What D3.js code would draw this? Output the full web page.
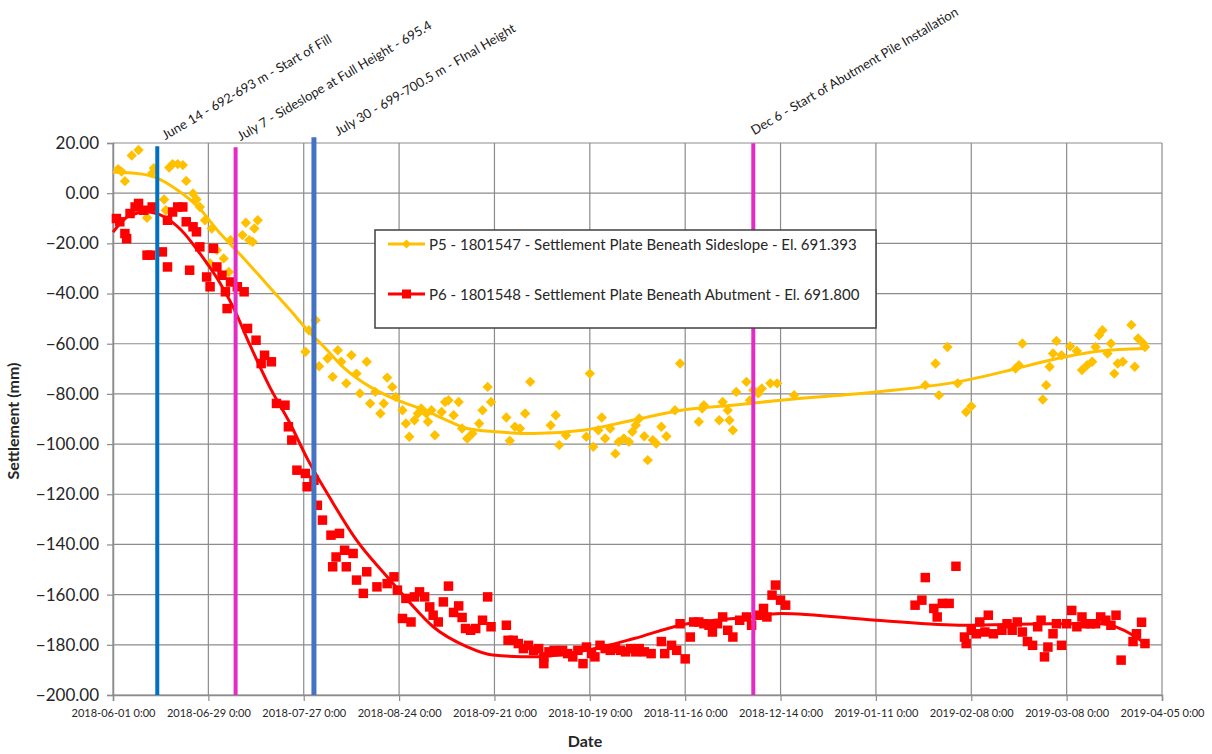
<!DOCTYPE html>
<html>
<head>
<meta charset="utf-8">
<script src="https://cdn.jsdelivr.net/npm/d3@7"></script>
<style>
  html, body { margin: 0; padding: 0; background: #fff; }
  svg { display: block; font-family: Lato, "Open Sans", sans-serif; }
</style>
</head>
<body>
<svg id="chart" width="1212" height="754"></svg>
<script>
// ---- Data ----------------------------------------------------------------
// Axis ticks
const xTickLabels = ["2018-06-01 0:00","2018-06-29 0:00","2018-07-27 0:00","2018-08-24 0:00",
  "2018-09-21 0:00","2018-10-19 0:00","2018-11-16 0:00","2018-12-14 0:00",
  "2019-01-11 0:00","2019-02-08 0:00","2019-03-08 0:00","2019-04-05 0:00"];
const yTicks = [20, 0, -20, -40, -60, -80, -100, -120, -140, -160, -180, -200];

// Series names
const seriesNames = [
  "P5 - 1801547 - Settlement Plate Beneath Sideslope - El. 691.393",
  "P6 - 1801548 - Settlement Plate Beneath Abutment - El. 691.800"
];

// P5 readings: [date, settlement mm]
const p5Readings = [
  ["2018-06-02 12", 9.6],["2018-06-03 12", 8.6],["2018-06-04 12", 4.8],["2018-06-06 12", 15.0],
  ["2018-06-08 12", 17.2],["2018-06-11", -9.8],["2018-06-12 12", 8.0],["2018-06-13", 10.0],
  ["2018-06-16", -2.5],["2018-06-16 12", -6.8],["2018-06-17 12", 10.2],["2018-06-18 12", 11.6],
  ["2018-06-20", 11.6],["2018-06-21 12", 11.2],["2018-06-22 12", 4.9],["2018-06-24 12", -0.1],
  ["2018-06-25 12", -2.5],["2018-06-26 12", -5.5],["2018-06-28", -10.8],["2018-06-29 12", -28.0],
  ["2018-06-30", -14.1],["2018-07-01 12", -22.7],["2018-07-03 12", -26.0],["2018-07-05", -31.4],
  ["2018-07-05 12", -18.7],["2018-07-09", -16.7],["2018-07-10", -11.8],["2018-07-11", -18.7],
  ["2018-07-12", -19.4],["2018-07-12 12", -14.1],["2018-07-13 12", -10.8],
  ["2018-07-27 12", -63.2],["2018-07-28 12", -54.6],["2018-07-30 12", -50.6],["2018-07-31 12", -69.0],
  ["2018-08-03", -65.9],["2018-08-04 12", -73.2],["2018-08-06", -62.6],["2018-08-07", -67.2],
  ["2018-08-08 12", -75.8],["2018-08-10", -64.6],["2018-08-11 12", -71.9],["2018-08-12 12", -79.8],
  ["2018-08-14 12", -67.2],["2018-08-15 12", -83.8],["2018-08-17", -79.2],["2018-08-18 12", -87.8],
  ["2018-08-19 12", -83.8],["2018-08-20 12", -73.5],["2018-08-22", -77.2],["2018-08-23", -81.2],
  ["2018-08-25", -86.5],["2018-08-26", -91.8],["2018-08-27", -97.1],["2018-08-28 12", -90.5],
  ["2018-08-29 12", -87.8],["2018-08-30 12", -85.8],["2018-09-01", -87.8],["2018-09-01 12", -91.1],
  ["2018-09-02 12", -86.5],["2018-09-03 12", -96.5],["2018-09-05 12", -87.2],["2018-09-06 12", -83.2],
  ["2018-09-07 12", -82.5],["2018-09-09", -88.5],["2018-09-10 12", -83.2],["2018-09-11 12", -93.8],
  ["2018-09-13", -97.8],["2018-09-14 12", -95.8],["2018-09-16 12", -91.8],["2018-09-17 12", -86.5],
  ["2018-09-19", -77.2],["2018-09-20", -83.2],["2018-09-24 12", -89.4],["2018-09-25 12", -98.7],
  ["2018-09-27", -93.1],["2018-09-28 12", -93.8],["2018-09-30", -87.8],["2018-10-01 12", -75.2],
  ["2018-10-07 12", -92.5],["2018-10-09", -88.5],["2018-10-10", -100.4],["2018-10-12", -96.5],
  ["2018-10-18", -97.1],["2018-10-19", -71.9],["2018-10-20", -101.1],["2018-10-21 12", -94.5],
  ["2018-10-22 12", -89.4],["2018-10-23 12", -97.8],["2018-10-25", -93.8],["2018-10-26 12", -103.8],
  ["2018-10-27 12", -99.1],["2018-10-29", -97.8],["2018-10-30 12", -99.1],["2018-10-31 12", -95.1],
  ["2018-11-01 12", -92.5],["2018-11-02 12", -89.8],["2018-11-04", -96.9],["2018-11-05", -106.4],
  ["2018-11-06 12", -98.4],["2018-11-07 12", -99.8],["2018-11-09", -93.1],["2018-11-10 12", -96.9],
  ["2018-11-13", -86.5],["2018-11-14 12", -67.9],["2018-11-20", -91.1],["2018-11-21", -85.8],
  ["2018-11-21 12", -84.5],["2018-11-26", -90.5],["2018-11-27", -83.2],["2018-11-28 12", -86.5],
  ["2018-11-29", -90.5],["2018-11-30", -94.5],["2018-12-01", -79.2],["2018-12-04", -75.2],
  ["2018-12-05", -82.5],["2018-12-06", -78.5],["2018-12-07 12", -79.8],["2018-12-08 12", -77.8],
  ["2018-12-11", -75.8],["2018-12-13", -75.8],["2018-12-18", -80.5],
  ["2019-01-25 12", -76.5],["2019-01-28 12", -67.9],["2019-01-29 12", -80.5],["2019-02-01", -61.3],
  ["2019-02-04", -75.8],["2019-02-06 12", -87.2],["2019-02-08", -84.9],["2019-02-21", -69.9],
  ["2019-02-22", -68.6],["2019-02-23", -59.9],["2019-03-01", -82.2],["2019-03-02", -76.5],
  ["2019-03-03", -69.2],["2019-03-04", -63.9],["2019-03-05", -58.9],["2019-03-06 12", -64.6],
  ["2019-03-09", -61.0],["2019-03-11", -62.9],["2019-03-12 12", -70.5],["2019-03-14", -68.6],
  ["2019-03-15 12", -67.2],["2019-03-16 12", -61.3],["2019-03-17 12", -56.6],["2019-03-18 12", -54.6],
  ["2019-03-20", -63.9],["2019-03-21", -59.9],["2019-03-22", -71.9],["2019-03-23", -67.9],
  ["2019-03-24 12", -67.2],["2019-03-27", -52.5],["2019-03-28", -69.2],["2019-03-29", -57.9],
  ["2019-03-30 12", -59.9],["2019-03-31", -61.3]
];

// P6 readings: [date, settlement mm]
const p6Readings = [
  ["2018-06-02", -10.1],["2018-06-03", -11.4],["2018-06-04 12", -16.1],["2018-06-05", -18.1],
  ["2018-06-06", -8.1],["2018-06-07 12", -5.5],["2018-06-08 12", -4.1],["2018-06-10", -6.8],
  ["2018-06-11", -24.7],["2018-06-12", -24.7],["2018-06-12 12", -5.5],["2018-06-15 12", -23.4],
  ["2018-06-17", -29.4],["2018-06-17", -10.8],["2018-06-18 12", -7.5],["2018-06-20", -5.5],
  ["2018-06-21 12", -5.5],["2018-06-22 12", -11.4],["2018-06-23 12", -30.7],["2018-06-24 12", -13.4],
  ["2018-06-25 12", -15.4],["2018-06-26 12", -21.4],["2018-06-28 12", -33.4],["2018-06-29 12", -37.3],
  ["2018-06-30 12", -22.0],["2018-07-01 12", -29.4],["2018-07-03", -32.7],["2018-07-04", -39.3],
  ["2018-07-04 12", -46.0],["2018-07-05 12", -35.4],["2018-07-07 12", -37.3],["2018-07-09 12", -39.3],
  ["2018-07-10 12", -53.9],["2018-07-13", -58.6],["2018-07-14 12", -67.9],["2018-07-15 12", -64.6],
  ["2018-07-17 12", -67.2],["2018-07-19", -83.8],["2018-07-21 12", -84.5],["2018-07-22 12", -93.1],
  ["2018-07-23 12", -98.4],["2018-07-25", -110.4],["2018-07-27 12", -111.7],["2018-07-28", -117.0],
  ["2018-07-30", -114.4],["2018-07-31", -124.4],["2018-08-01 12", -130.3],["2018-08-04", -136.3],
  ["2018-08-04 12", -148.9],["2018-08-05 12", -145.0],["2018-08-06 12", -135.6],["2018-08-08", -142.3],
  ["2018-08-08 12", -148.9],["2018-08-10 12", -143.6],["2018-08-11 12", -154.2],["2018-08-13 12", -159.5],
  ["2018-08-14 12", -150.9],["2018-08-17 12", -156.9],["2018-08-20 12", -155.6],["2018-08-22 12", -152.9],
  ["2018-08-23 12", -158.2],["2018-08-25", -169.5],["2018-08-26", -161.5],["2018-08-27 12", -170.9],
  ["2018-08-28 12", -160.9],["2018-08-30", -158.9],["2018-08-31 12", -160.9],["2018-09-02", -164.9],
  ["2018-09-03", -168.2],["2018-09-04 12", -170.9],["2018-09-06", -162.9],["2018-09-07 12", -156.6],
  ["2018-09-09", -167.1],["2018-09-10 12", -164.5],["2018-09-11 12", -169.1],["2018-09-12 12", -173.5],
  ["2018-09-14", -174.2],["2018-09-15 12", -173.5],["2018-09-17 12", -170.2],["2018-09-19", -160.9],
  ["2018-09-20", -172.8],["2018-09-24 12", -172.2],["2018-09-25", -178.2],["2018-09-26 12", -178.2],
  ["2018-09-28", -179.5],["2018-09-29 12", -181.5],["2018-10-01", -180.2],["2018-10-02 12", -182.2],
  ["2018-10-04", -181.5],["2018-10-05 12", -187.5],["2018-10-05 12", -184.8],["2018-10-07", -182.8],
  ["2018-10-08 12", -182.2],["2018-10-10", -182.8],["2018-10-11", -182.2],["2018-10-12 12", -183.5],
  ["2018-10-14", -184.8],["2018-10-15 12", -182.2],["2018-10-17", -187.5],["2018-10-18", -180.9],
  ["2018-10-19 12", -183.5],["2018-10-20 12", -184.8],["2018-10-22", -180.2],["2018-10-23 12", -181.5],
  ["2018-10-25", -182.2],["2018-10-26 12", -181.5],["2018-10-28", -182.2],["2018-10-29 12", -182.8],
  ["2018-10-31", -181.5],["2018-11-01 12", -182.8],["2018-11-02 12", -181.5],["2018-11-04", -182.8],
  ["2018-11-06", -183.5],["2018-11-09", -178.7],["2018-11-10", -183.5],["2018-11-12", -180.2],
  ["2018-11-13 12", -182.2],["2018-11-14 12", -171.6],["2018-11-16", -185.6],["2018-11-17 12", -176.9],
  ["2018-11-18 12", -170.9],["2018-11-20", -170.9],["2018-11-21 12", -171.6],["2018-11-23", -172.2],
  ["2018-11-24", -174.9],["2018-11-25 12", -171.6],["2018-11-27", -168.9],["2018-11-28 12", -174.2],
  ["2018-11-30", -176.9],["2018-12-02", -170.2],["2018-12-04", -168.9],["2018-12-05 12", -172.2],
  ["2018-12-07 12", -168.2],["2018-12-09", -165.5],["2018-12-10", -168.9],["2018-12-11 12", -160.2],
  ["2018-12-12 12", -156.2],["2018-12-14", -162.2],["2018-12-15 12", -164.2],
  ["2019-01-22 12", -164.2],["2019-01-24 12", -162.2],["2019-01-25 12", -153.2],["2019-01-28", -165.5],
  ["2019-01-29", -168.9],["2019-01-30 12", -163.5],["2019-02-01 12", -163.5],["2019-02-03 12", -148.7],
  ["2019-02-06", -176.9],["2019-02-06 12", -179.5],["2019-02-08", -174.2],["2019-02-09 12", -175.6],
  ["2019-02-10 12", -170.9],["2019-02-12", -174.9],["2019-02-13", -168.2],["2019-02-14 12", -175.6],
  ["2019-02-17", -174.2],["2019-02-18 12", -171.6],["2019-02-20", -174.2],["2019-02-21 12", -170.9],
  ["2019-02-23", -174.9],["2019-02-24 12", -178.7],["2019-02-26", -180.2],["2019-02-27 12", -172.8],
  ["2019-02-28 12", -170.2],["2019-03-01 12", -184.8],["2019-03-02 12", -180.9],["2019-03-04", -175.6],
  ["2019-03-05", -171.6],["2019-03-06 12", -180.2],["2019-03-08", -171.6],["2019-03-09 12", -166.3],
  ["2019-03-11", -172.8],["2019-03-12 12", -168.9],["2019-03-13 12", -171.6],["2019-03-15", -171.6],
  ["2019-03-16 12", -171.6],["2019-03-18", -168.9],["2019-03-19 12", -170.2],["2019-03-21", -172.2],
  ["2019-03-22 12", -168.2],["2019-03-24", -186.1],["2019-03-27 12", -178.7],["2019-03-28 12", -175.6],
  ["2019-03-30", -171.0],["2019-03-31", -179.5]
];

// Fitted trend curves, sampled along the date range
const p5Trend = [
  ["2018-06-01", 8.3],["2018-06-08", 7.8],["2018-06-13", 6.5],["2018-06-20", 1.2],["2018-06-26", -5.5],
  ["2018-07-02 12", -16.1],["2018-07-09", -25.4],["2018-07-16", -36.0],["2018-07-23", -46.6],
  ["2018-07-29", -55.9],["2018-08-02", -61.3],["2018-08-07 12", -69.2],["2018-08-15 12", -77.2],
  ["2018-08-23 12", -82.5],["2018-08-31 12", -86.5],["2018-09-07", -90.5],["2018-09-13", -93.8],
  ["2018-09-21 12", -95.1],["2018-10-02 12", -95.8],["2018-10-17", -94.5],["2018-10-31 12", -90.5],
  ["2018-11-15", -86.5],["2018-11-30", -84.5],["2018-12-14", -82.5],["2019-01-11", -79.2],
  ["2019-02-04", -75.2],["2019-02-19 12", -70.5],["2019-03-03", -66.6],["2019-03-18", -62.9],
  ["2019-03-31", -61.9]
];
const p6Trend = [
  ["2018-06-01", -15.5],["2018-06-06", -8.8],["2018-06-11", -7.5],["2018-06-16", -9.4],
  ["2018-06-21", -14.7],["2018-06-26 12", -24.0],["2018-07-02 12", -36.0],["2018-07-06 12", -46.0],
  ["2018-07-11", -59.9],["2018-07-17", -77.2],["2018-07-23", -91.8],["2018-07-28", -105.7],
  ["2018-08-03 12", -121.0],["2018-08-11 12", -138.3],["2018-08-20 12", -152.9],["2018-08-26 12", -162.2],
  ["2018-09-03", -172.8],["2018-09-13", -180.8],["2018-09-20 12", -184.1],["2018-10-02 12", -184.8],
  ["2018-10-18", -182.2],["2018-11-01", -177.5],["2018-11-14 12", -172.2],["2018-12-05", -168.9],
  ["2018-12-14", -167.5],["2019-01-11", -170.2],["2019-02-06", -172.2],["2019-03-03", -171.6],
  ["2019-03-18", -171.6],["2019-03-27 12", -176.2],["2019-03-31", -179.5]
];

// Construction events (vertical markers)
const eventDates = ["2018-06-14", "2018-07-07", "2018-07-30", "2018-12-06"];
const eventLabels = [
  "June 14 - 692-693 m - Start of Fill",
  "July 7 - Sideslope at Full Height - 695.4",
  "July 30 - 699-700.5 m - FInal Height",
  "Dec 6 - Start of Abutment Pile Installation"
];
const eventTops = [18.7, 18.3, 22.3, 19.9];

// ---- Styles ---------------------------------------------------------------
const P5_COLOR = "#FFC000";
const P6_COLOR = "#FF0000";
const GRID = "#8c8c8c";
const eventStyle = [
  { color: "#0070C0", width: 4, dx: 8, dy: -6 },
  { color: "#E32BC6", width: 4, dx: 5, dy: -6 },
  { color: "#4472C4", width: 5, dx: 24, dy: -1 },
  { color: "#E32BC6", width: 4, dx: 1, dy: -8 }
];

// ---- Chart ---------------------------------------------------------------
const W = 1212, H = 754;
const m = { top: 143, right: 50, bottom: 59, left: 113 };
const parseHour = d3.timeParse("%Y-%m-%d %H");
const parseDay = d3.timeParse("%Y-%m-%d");
const toDate = s => parseHour(s) || parseDay(s);

const svg = d3.select("#chart");
svg.append("rect").attr("width", W).attr("height", H).attr("fill", "#fff");

const x = d3.scaleTime()
  .domain([toDate("2018-06-01"), toDate("2019-04-05")])
  .range([m.left, W - m.right]);
const y = d3.scaleLinear().domain([-200, 20]).range([H - m.bottom, m.top]);

const xTicks = xTickLabels.map(s => toDate(s.slice(0, 10)));

// Gridlines
const grid = svg.append("g").attr("stroke", GRID).attr("stroke-width", 1.2);
grid.selectAll("line.h").data(yTicks).join("line")
  .attr("x1", m.left).attr("x2", W - m.right)
  .attr("y1", d => y(d)).attr("y2", d => y(d));
grid.selectAll("line.v").data(xTicks).join("line")
  .attr("x1", d => x(d)).attr("x2", d => x(d))
  .attr("y1", m.top).attr("y2", H - m.bottom);

// Axes
const yAxis = svg.append("g").attr("transform", `translate(${m.left},0)`)
  .call(d3.axisLeft(y).tickValues(yTicks).tickFormat(d3.format(".2f")).tickSize(6).tickPadding(8));
const xAxis = svg.append("g").attr("transform", `translate(0,${H - m.bottom})`)
  .call(d3.axisBottom(x).tickValues(xTicks).tickFormat((d, i) => xTickLabels[i]).tickSize(6).tickPadding(8));
[yAxis, xAxis].forEach(g => {
  g.selectAll("path, line").attr("stroke", GRID).attr("stroke-width", 1.2);
  g.select(".domain").attr("stroke-width", 1.5);
  g.selectAll("text").attr("fill", "#262626").attr("font-family", "Lato, sans-serif");
});
yAxis.selectAll("text").attr("font-size", 17);
xAxis.selectAll("text").attr("font-size", 11);

// Axis titles
svg.append("text").attr("transform", "translate(19,421) rotate(-90)")
  .attr("text-anchor", "middle").attr("font-weight", "bold").attr("font-size", 16)
  .attr("fill", "#262626").text("Settlement (mm)");
svg.append("text").attr("x", 585).attr("y", 747)
  .attr("text-anchor", "middle").attr("font-weight", "bold").attr("font-size", 16)
  .attr("fill", "#262626").text("Date");

// Markers
const diamond = r => `M0,${-r}L${r},0L0,${r}L${-r},0Z`;
const square = s => `M${-s / 2},${-s / 2}h${s}v${s}h${-s}Z`;

const plot = svg.append("g");
plot.append("g").selectAll("path").data(p5Readings).join("path")
  .attr("d", diamond(5.2))
  .attr("transform", d => `translate(${x(toDate(d[0]))},${y(d[1])})`)
  .attr("fill", P5_COLOR);
plot.append("g").selectAll("path").data(p6Readings).join("path")
  .attr("d", square(9.5))
  .attr("transform", d => `translate(${x(toDate(d[0]))},${y(d[1])})`)
  .attr("fill", P6_COLOR);

// Trend curves
const trendLine = d3.line().x(d => x(toDate(d[0]))).y(d => y(d[1])).curve(d3.curveMonotoneX);
plot.append("path").datum(p5Trend).attr("d", trendLine)
  .attr("fill", "none").attr("stroke", P5_COLOR).attr("stroke-width", 3);
plot.append("path").datum(p6Trend).attr("d", trendLine)
  .attr("fill", "none").attr("stroke", P6_COLOR).attr("stroke-width", 3);

// Event markers and labels
const ev = svg.append("g");
eventDates.forEach((d, i) => {
  const xe = x(toDate(d));
  const st = eventStyle[i];
  ev.append("line")
    .attr("x1", xe).attr("x2", xe)
    .attr("y1", y(eventTops[i])).attr("y2", y(-200))
    .attr("stroke", st.color).attr("stroke-width", st.width);
  ev.append("text")
    .attr("transform", `translate(${xe + st.dx},${y(eventTops[i]) + st.dy}) rotate(-30.5)`)
    .attr("font-size", 13).attr("fill", "#1a1a1a")
    .text(eventLabels[i]);
});

// Legend
const lg = svg.append("g");
lg.append("rect").attr("x", 375).attr("y", 230).attr("width", 501).attr("height", 98)
  .attr("fill", "#fff").attr("stroke", "#404040").attr("stroke-width", 1.5);
const legendItems = [
  { name: seriesNames[0], color: P5_COLOR, mark: diamond(4.5) },
  { name: seriesNames[1], color: P6_COLOR, mark: square(9) }
];
legendItems.forEach((it, i) => {
  const ly = 244 + i * 50;
  lg.append("line").attr("x1", 388).attr("x2", 425).attr("y1", ly).attr("y2", ly)
    .attr("stroke", it.color).attr("stroke-width", 3);
  lg.append("path").attr("d", it.mark).attr("transform", `translate(406.5,${ly})`)
    .attr("fill", it.color);
  lg.append("text").attr("x", 429).attr("y", ly + 5.5)
    .attr("font-size", 15).attr("fill", "#262626").text(it.name);
});
</script>
</body>
</html>
